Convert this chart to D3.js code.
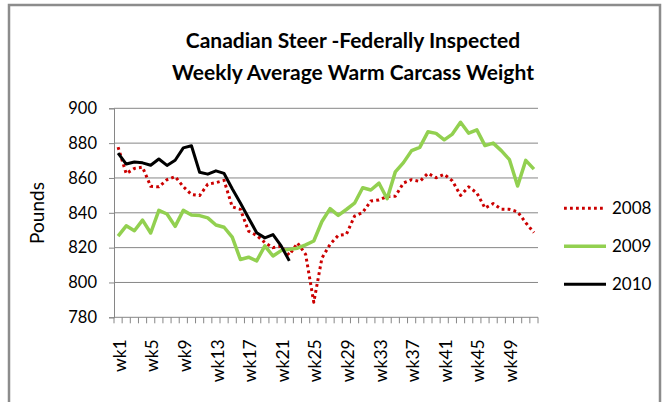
<!DOCTYPE html>
<html>
<head>
<meta charset="utf-8">
<script src="https://cdn.jsdelivr.net/npm/d3@7"></script>
<style>
  body { margin: 0; background: #fff; }
  svg { display: block; font-family: Lato, "Open Sans", sans-serif; }
</style>
</head>
<body>
<svg id="chart" width="670" height="402"></svg>
<script>
// weeks 1..52
var weeks = d3.range(1, 53).map(function(i){ return "wk" + i; });
var yTicks = [780, 800, 820, 840, 860, 880, 900];
var seriesNames = ["2008", "2009", "2010"];

var w2008 = [877.7, 862.5, 865.5, 866.2, 855.2, 854.9, 859, 860.8, 855, 850.5,
             849.9, 856.4, 857.3, 858.6, 843.4, 842, 829.5, 827, 822.9, 820,
             820.8, 815.7, 822.7, 816.2, 788.6, 814, 821.9, 827, 827.6, 838.1,
             840.2, 846.8, 847.4, 849.3, 849.5, 857.1, 859, 858, 862.7, 860.1,
             862.1, 858.3, 850, 854.9, 851.4, 842.7, 845.3, 842.1, 842, 840.6,
             834.3, 828.6];
var w2009 = [826.6, 832.5, 829.7, 835.8, 828.4, 841.4, 839.3, 832.2, 841.4, 838.7,
             838.4, 837.1, 833, 831.7, 826, 813.2, 814.5, 812.4, 821, 815.2,
             818.3, 819, 819.7, 821.6, 823.8, 835, 842.4, 838.5, 841.9, 845.5,
             854.4, 853.1, 857, 848.1, 863.5, 868.8, 875.7, 877.6, 886.5, 885.6,
             881.9, 885.2, 892, 885.7, 887.6, 878.6, 880, 875.7, 870.5, 855.4,
             870.1, 865.1];
var w2010 = [874.3, 868, 869.2, 868.7, 867.3, 870.9, 867.2, 870.2, 877.3, 878.5,
             863.3, 862.2, 864.1, 862.6, 853.8, 845.6, 837, 828.6, 825.6, 827.5,
             821, 812.4];

var svg = d3.select("#chart");
var GRID = "#868686";

// outer frame
svg.append("path")
    .attr("d", "M9,402 V5 H660 V402")
    .attr("fill", "none")
    .attr("stroke", "#8c8c8c")
    .attr("stroke-width", 2.5);

var x = d3.scaleBand().domain(weeks).range([114, 538]).padding(0);
var y = d3.scaleLinear().domain([780, 900]).range([317.3, 108.3]);

// gridlines
svg.append("g").selectAll("line")
    .data(yTicks.filter(function(d){ return d > 780; }))
    .enter().append("line")
    .attr("x1", 114).attr("x2", 538)
    .attr("y1", function(d){ return y(d); })
    .attr("y2", function(d){ return y(d); })
    .attr("stroke", GRID).attr("stroke-width", 1);

// y axis
var yAxis = svg.append("g")
    .attr("transform", "translate(114,0)")
    .call(d3.axisLeft(y).tickValues(yTicks).tickSize(5).tickPadding(12));
yAxis.select(".domain").attr("stroke", GRID);
yAxis.selectAll(".tick line").attr("stroke", GRID);
yAxis.selectAll("text")
    .attr("font-size", 16.5).attr("fill", "#000")
    .style("font-family", "Lato, sans-serif");

// x axis: ticks at every category boundary
var xg = svg.append("g");
xg.append("line")
    .attr("x1", 114).attr("x2", 538)
    .attr("y1", y(780)).attr("y2", y(780))
    .attr("stroke", GRID);
xg.selectAll("line.tk")
    .data(weeks.concat(["end"]))
    .enter().append("line")
    .attr("class", "tk")
    .attr("x1", function(d, i){ return 114 + i * x.bandwidth(); })
    .attr("x2", function(d, i){ return 114 + i * x.bandwidth(); })
    .attr("y1", y(780)).attr("y2", y(780) + 6)
    .attr("stroke", GRID);
xg.selectAll("text")
    .data(weeks.filter(function(d, i){ return i % 4 == 0; }))
    .enter().append("text")
    .attr("transform", function(d){
        var cx = x(d) + x.bandwidth() / 2 + 1.5;
        return "translate(" + cx + "," + (y(780) + 22) + ") rotate(-90)";
    })
    .attr("text-anchor", "end")
    .attr("dy", "0.35em")
    .attr("font-size", 17.5)
    .text(function(d){ return d; });

// axis title
svg.append("text")
    .attr("transform", "translate(44,213) rotate(-90)")
    .attr("text-anchor", "middle")
    .attr("font-size", 19)
    .text("Pounds");

// title
svg.append("text")
    .attr("x", 353).attr("y", 48)
    .attr("text-anchor", "middle")
    .attr("font-size", 21).attr("font-weight", "bold")
    .text("Canadian Steer -Federally Inspected");
svg.append("text")
    .attr("x", 353).attr("y", 80)
    .attr("text-anchor", "middle")
    .attr("font-size", 21).attr("font-weight", "bold")
    .text("Weekly Average Warm Carcass Weight");

// series
var styles = {
    "2008": {color: "#cc0000", width: 3, dash: "2.8 3.2"},
    "2009": {color: "#92d050", width: 3.5, dash: null},
    "2010": {color: "#000000", width: 3, dash: null}
};
var seriesData = {"2008": w2008, "2009": w2009, "2010": w2010};

var line = d3.line()
    .x(function(d, i){ return x(weeks[i]) + x.bandwidth() / 2; })
    .y(function(d){ return y(d); });

seriesNames.forEach(function(name){
    var st = styles[name];
    svg.append("path")
        .datum(seriesData[name])
        .attr("d", line)
        .attr("fill", "none")
        .attr("stroke", st.color)
        .attr("stroke-width", st.width)
        .attr("stroke-linejoin", "round")
        .attr("stroke-dasharray", st.dash);
});

// legend
var legend = svg.append("g").selectAll("g")
    .data(seriesNames)
    .enter().append("g")
    .attr("transform", function(d, i){ return "translate(564," + (208.3 + i * 38) + ")"; });
legend.append("line")
    .attr("x1", 0).attr("x2", 42)
    .attr("stroke", function(d){ return styles[d].color; })
    .attr("stroke-width", function(d){ return styles[d].width; })
    .attr("stroke-dasharray", function(d){ return styles[d].dash; });
legend.append("text")
    .attr("x", 48).attr("dy", "0.35em")
    .attr("font-size", 17)
    .text(function(d){ return d; });
</script>
</body>
</html>
